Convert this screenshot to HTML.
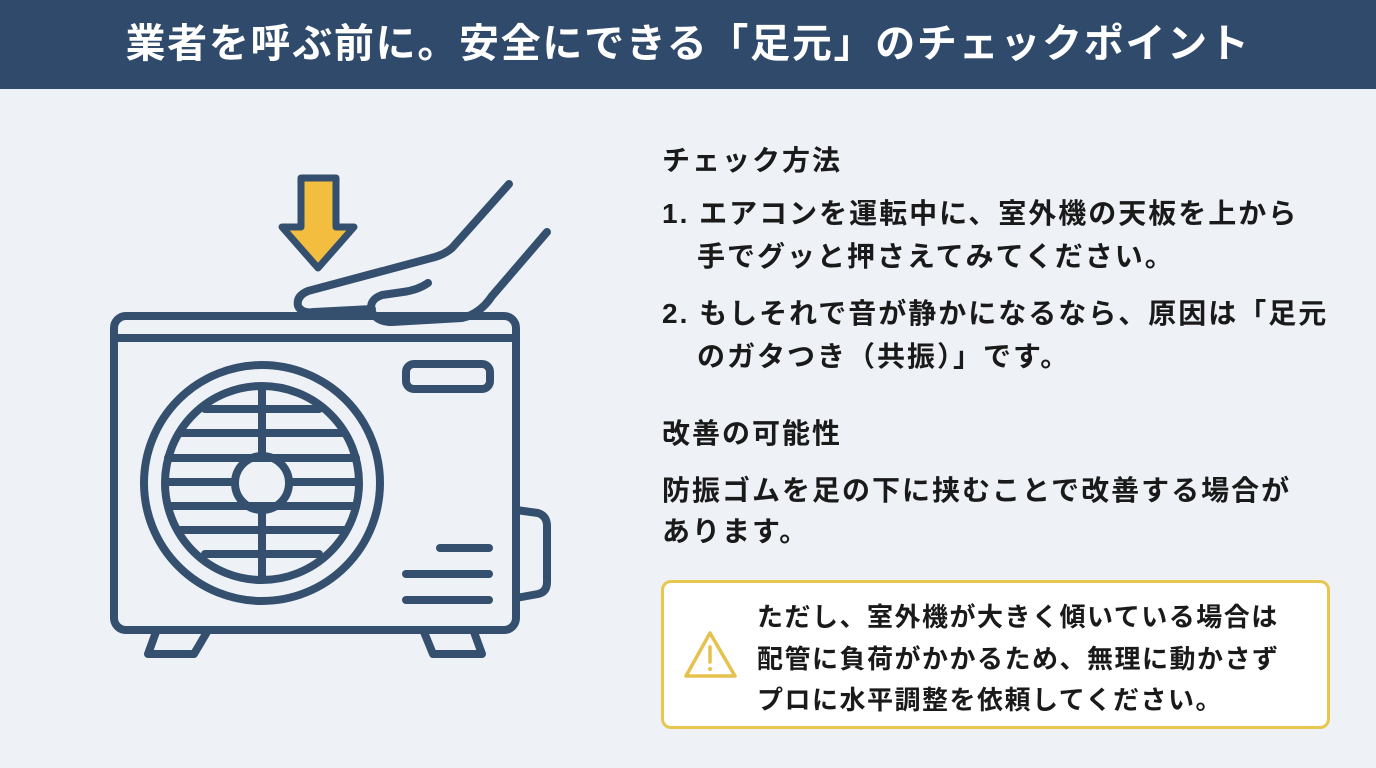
<!DOCTYPE html>
<html><head><meta charset="utf-8"><style>
*{margin:0;padding:0;box-sizing:border-box}
body{width:1376px;height:768px;overflow:hidden;background:#eef2f7;font-family:"Liberation Sans","Noto Sans CJK JP",sans-serif;color:#1a1a1a;position:relative}
.hdr{position:absolute;left:0;top:0;width:1376px;height:89px;background:#2f4a6a;color:#fff;font-weight:bold;font-size:40px;text-align:center;line-height:89px;letter-spacing:1.7px}
.t{position:absolute;font-weight:bold;white-space:nowrap}
.h{font-size:28px;letter-spacing:2px}
.p{font-size:28px;letter-spacing:2px}
.box{position:absolute;left:661px;top:580px;width:669px;height:149px;border:3px solid #e8c74e;border-radius:10px;background:#fff}
.w{font-size:26px;letter-spacing:1.5px}
</style></head><body>
<div class="hdr">業者を呼ぶ前に。安全にできる「足元」のチェックポイント</div>
<svg style="position:absolute;left:0;top:0" width="1376" height="768">
<g fill="none" stroke="#34506e" stroke-width="8" stroke-linecap="round" stroke-linejoin="round">
<rect x="114" y="316" width="402" height="314" rx="12"/>
<line x1="114" y1="338" x2="516" y2="338"/>
<circle cx="262" cy="483" r="118"/>
<circle cx="262" cy="483" r="97"/>
<circle cx="262" cy="483" r="27"/>
<line x1="262" y1="388" x2="262" y2="455"/><line x1="262" y1="511" x2="262" y2="578"/>
<line x1="205" y1="409" x2="319" y2="409"/>
<line x1="180" y1="433" x2="344" y2="433"/>
<line x1="168" y1="458" x2="356" y2="458"/>
<line x1="166" y1="482" x2="234" y2="482"/><line x1="290" y1="482" x2="358" y2="482"/>
<line x1="168" y1="506" x2="356" y2="506"/>
<line x1="180" y1="530" x2="344" y2="530"/>
<line x1="205" y1="554" x2="319" y2="554"/>
<rect x="406" y="364" width="84" height="25" rx="8"/>
<line x1="440" y1="548" x2="489" y2="548"/>
<line x1="406" y1="574" x2="489" y2="574"/>
<line x1="406" y1="600" x2="489" y2="600"/>
<path d="M516 510 L538 513 Q547 516 547 526 L547 582 Q547 592 538 594 L516 598"/>
<path d="M156 632 L148 654 L194 654 L207 632"/>
<path d="M424 632 L433 654 L482 654 L474 632"/>
<path d="M509 184 L452 248 Q445 254 435 257 L308 291 Q296 296 298 306 Q302 314 314 312 L372 309"/>
<path d="M428 283 Q418 290 403 292 L382 295 Q368 300 372 312 Q377 322 392 322 L462 318 Q480 314 492 296 L547 232"/>
</g>
<polygon points="301,178 336,178 336,227 354,227 318,268 282,227 301,227" fill="#f3bd3f" stroke="#34506e" stroke-width="7" stroke-linejoin="round"/>
</svg>
<div class="t h" style="left:662px;top:139px">チェック方法</div>
<div class="t p" style="left:662px;top:192px">1. エアコンを運転中に、室外機の天板を上から</div>
<div class="t p" style="left:697px;top:235px">手でグッと押さえてみてください。</div>
<div class="t p" style="left:662px;top:292px">2. もしそれで音が静かになるなら、原因は「足元</div>
<div class="t p" style="left:697px;top:335px">のガタつき（共振）」です。</div>
<div class="t h" style="left:662px;top:412px">改善の可能性</div>
<div class="t p" style="left:662px;top:469px">防振ゴムを足の下に挟むことで改善する場合が</div>
<div class="t p" style="left:662px;top:510px">あります。</div>
<div class="box"></div>
<svg style="position:absolute;left:0;top:0" width="1376" height="768">
<g fill="none" stroke="#e5c14e" stroke-width="3.5" stroke-linejoin="round" stroke-linecap="round">
<path d="M710 633 L735 676 L686 676 Z"/>
<line x1="710" y1="647" x2="710" y2="662"/>
</g>
<circle cx="710" cy="669" r="2" fill="#e5c14e"/>
</svg>
<div class="t w" style="left:757px;top:597px">ただし、室外機が大きく傾いている場合は</div>
<div class="t w" style="left:757px;top:639px">配管に負荷がかかるため、無理に動かさず</div>
<div class="t w" style="left:757px;top:680px">プロに水平調整を依頼してください。</div>
</body></html>
